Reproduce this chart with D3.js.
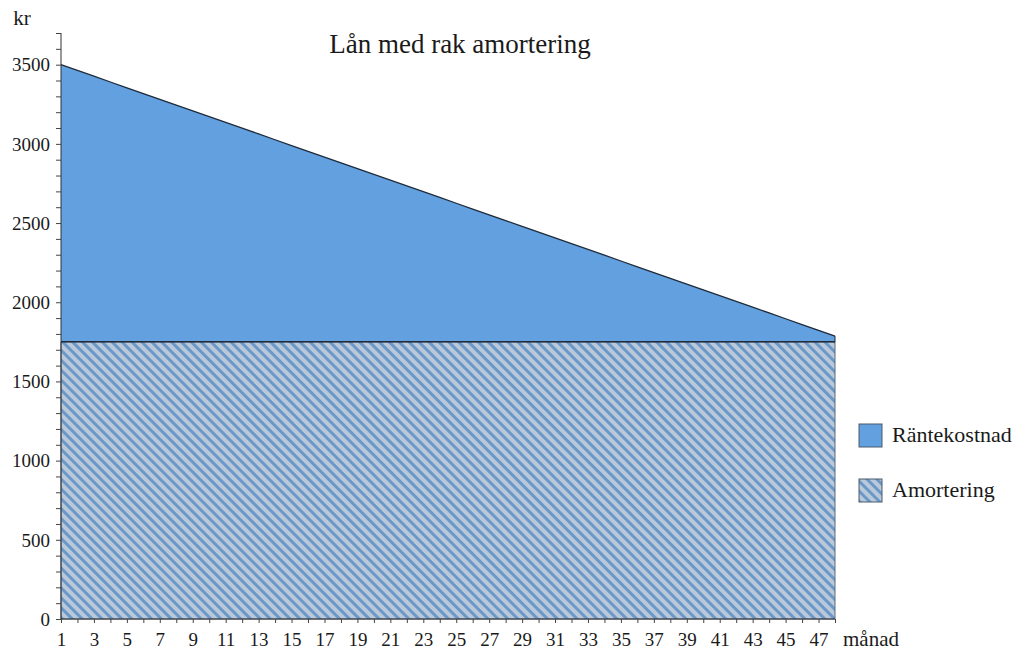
<!DOCTYPE html>
<html>
<head>
<meta charset="utf-8">
<script src="https://cdn.jsdelivr.net/npm/d3@7"></script>
<style>
  body { margin: 0; background: #fff; }
  text { font-family: "Liberation Serif", serif; fill: #1a1a1a; }
</style>
</head>
<body>
<svg id="chart" width="1018" height="650"></svg>
<script>
// months 1..48
const months = d3.range(1, 49)
const amortering = [1750, 1750, 1750, 1750, 1750, 1750, 1750, 1750, 1750, 1750, 1750, 1750,
    1750, 1750, 1750, 1750, 1750, 1750, 1750, 1750, 1750, 1750, 1750, 1750,
    1750, 1750, 1750, 1750, 1750, 1750, 1750, 1750, 1750, 1750, 1750, 1750,
    1750, 1750, 1750, 1750, 1750, 1750, 1750, 1750, 1750, 1750, 1750, 1750]
const rantekostnad = [1750, 1713.54, 1677.08, 1640.63, 1604.17, 1567.71, 1531.25, 1494.79,
    1458.33, 1421.88, 1385.42, 1348.96, 1312.5, 1276.04, 1239.58, 1203.13,
    1166.67, 1130.21, 1093.75, 1057.29, 1020.83, 984.38, 947.92, 911.46,
    875, 838.54, 802.08, 765.63, 729.17, 692.71, 656.25, 619.79,
    583.33, 546.88, 510.42, 473.96, 437.5, 401.04, 364.58, 328.13,
    291.67, 255.21, 218.75, 182.29, 145.83, 109.38, 72.92, 36.46]
const xTickLabels = d3.range(1, 48, 2)
const yTickLabels = [0, 500, 1000, 1500, 2000, 2500, 3000, 3500]
const seriesNames = ["Räntekostnad", "Amortering"]

const svg = d3.select("#chart")
const margin = { left: 61, right: 183, top: 33, bottom: 31 }
const width = 1018, height = 650
const serif = "'Liberation Serif', serif"

const x = d3.scaleLinear().domain([1, 48]).range([margin.left, width - margin.right])
const y = d3.scaleLinear().domain([0, 3700]).range([height - margin.bottom, margin.top])

// hatch pattern for amortering
const defs = svg.append("defs")
const pat = defs.append("pattern")
    .attr("id", "hatch")
    .attr("patternUnits", "userSpaceOnUse")
    .attr("width", 7).attr("height", 7)
    .attr("patternTransform", "rotate(45)")
pat.append("rect").attr("width", 7).attr("height", 7).attr("fill", "#b9c9da")
pat.append("rect").attr("width", 7).attr("height", 3).attr("fill", "#6b98c9")

const rows = months.map((m, i) => ({ m, a: amortering[i], r: rantekostnad[i] }))

const areaA = d3.area()
    .x(d => x(d.m))
    .y0(y(0))
    .y1(d => y(d.a))
const areaR = d3.area()
    .x(d => x(d.m))
    .y0(d => y(d.a))
    .y1(d => y(d.a + d.r))

svg.append("path")
    .datum(rows)
    .attr("fill", "url(#hatch)")
    .attr("stroke", "#5b6b7c")
    .attr("stroke-width", 1)
    .attr("d", areaA)

svg.append("path")
    .datum(rows)
    .attr("fill", "#62a0df")
    .attr("d", areaR)

// dark edges
svg.append("path")
    .datum(rows)
    .attr("fill", "none")
    .attr("stroke", "#1f2b3a")
    .attr("stroke-width", 1.3)
    .attr("d", d3.line().x(d => x(d.m)).y(d => y(d.a + d.r)))
svg.append("path")
    .datum(rows)
    .attr("fill", "none")
    .attr("stroke", "#1f2b3a")
    .attr("stroke-width", 1.5)
    .attr("d", d3.line().x(d => x(d.m)).y(d => y(d.a)))
svg.append("line")
    .attr("x1", x(48)).attr("x2", x(48))
    .attr("y1", y(rows[47].a + rows[47].r)).attr("y2", y(rows[47].a))
    .attr("stroke", "#1f2b3a")

// axes
const yAxis = d3.axisLeft(y)
    .tickValues(d3.range(0, 3701, 100))
    .tickSize(5)
    .tickFormat(d => yTickLabels.includes(d) ? d : "")
const gy = svg.append("g")
    .attr("transform", `translate(${margin.left},0)`)
    .call(yAxis)
    .attr("font-family", serif)
    .attr("font-size", 19)
gy.select(".domain").attr("d", `M0,${y(3700)}V${y(0)}`).attr("stroke", "#333")
gy.selectAll(".tick line").attr("stroke", "#444")
gy.selectAll("text").attr("x", -11).attr("dy", "0.33em")

const xAxis = d3.axisBottom(x)
    .tickValues(months)
    .tickSize(4)
    .tickFormat(d => xTickLabels.includes(d) ? d : "")
const gx = svg.append("g")
    .attr("transform", `translate(0,${y(0)})`)
    .call(xAxis)
    .attr("font-family", serif)
    .attr("font-size", 19)
gx.select(".domain").attr("d", `M${x(1)},0H${x(48)}`).attr("stroke", "#333")
gx.selectAll(".tick line").attr("stroke", "#444")
gx.selectAll("text").attr("y", 14)

svg.append("text")
    .attr("x", 22).attr("y", 25)
    .attr("text-anchor", "middle")
    .attr("font-size", 21)
    .text("kr")
svg.append("text")
    .attr("x", 843).attr("y", 646)
    .attr("font-size", 21)
    .text("månad")

svg.append("text")
    .attr("x", 460).attr("y", 53)
    .attr("text-anchor", "middle")
    .attr("font-size", 27)
    .text("Lån med rak amortering")

// legend
const legend = svg.append("g").attr("transform", "translate(859,424)")
const legendFill = ["#62a0df", "url(#hatch)"]
seriesNames.forEach((name, i) => {
    const g = legend.append("g").attr("transform", `translate(0,${i * 55})`)
    g.append("rect")
        .attr("width", 23).attr("height", 23)
        .attr("fill", legendFill[i])
        .attr("stroke", "#4a5a6c")
    g.append("text")
        .attr("x", 33).attr("y", 18)
        .attr("font-size", 22)
        .text(name)
})
</script>
</body>
</html>
